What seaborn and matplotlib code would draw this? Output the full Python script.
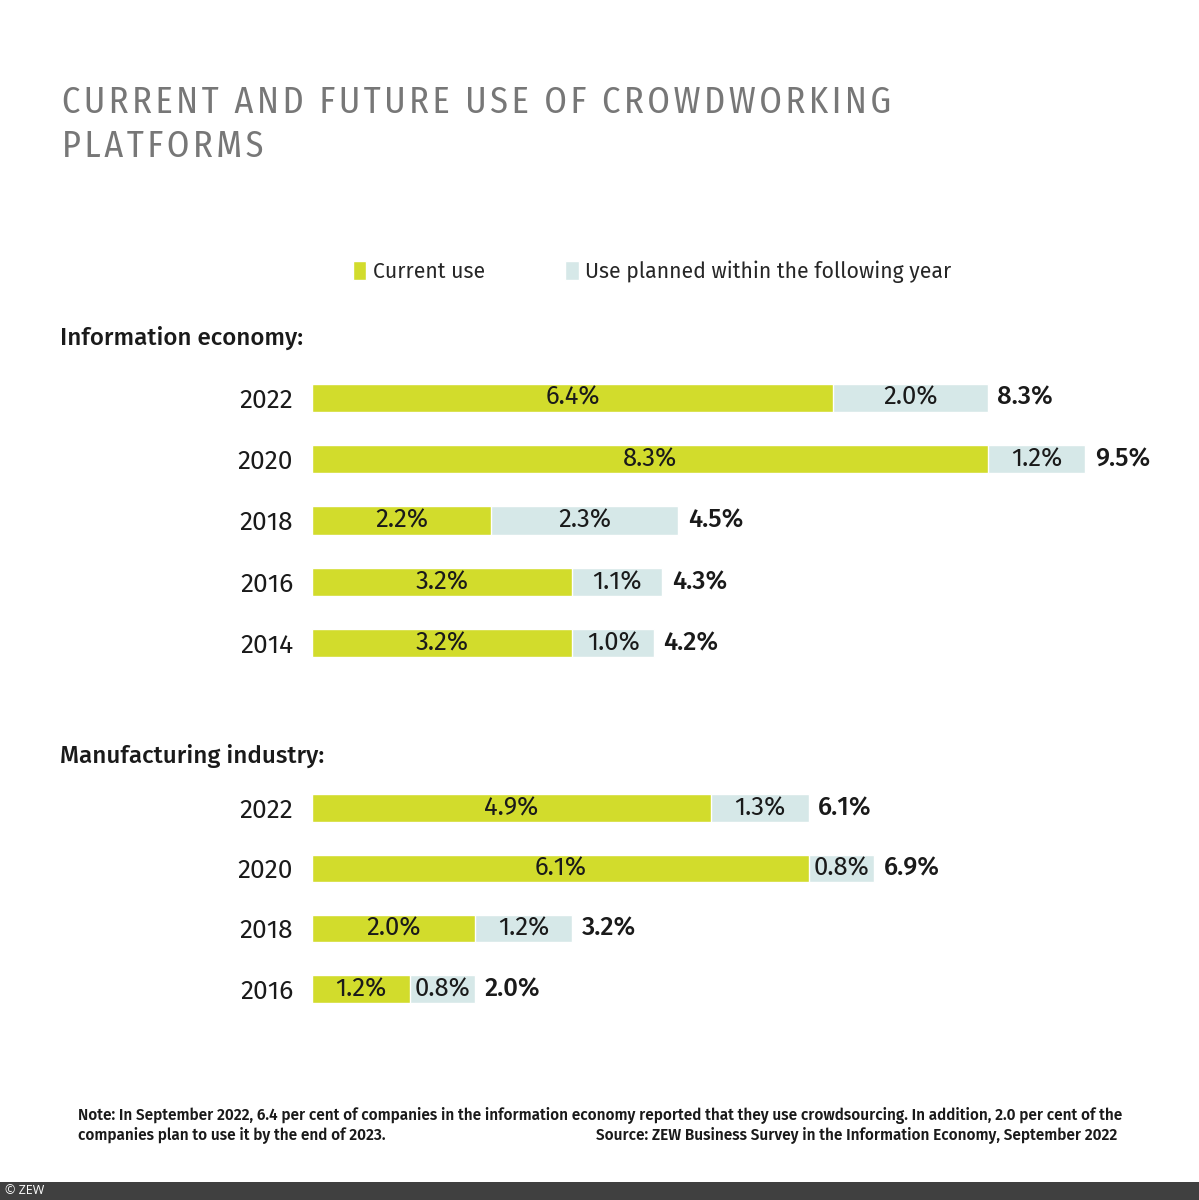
import matplotlib
matplotlib.use("Agg")
import matplotlib.pyplot as plt
import seaborn as sns
from matplotlib.patches import Patch, Rectangle

# Données
info_years = ["2022", "2020", "2018", "2016", "2014"]
info_current = [6.4, 8.3, 2.2, 3.2, 3.2]
info_planned = [2.0, 1.2, 2.3, 1.1, 1.0]
info_total = [8.3, 9.5, 4.5, 4.3, 4.2]

manu_years = ["2022", "2020", "2018", "2016"]
manu_current = [4.9, 6.1, 2.0, 1.2]
manu_planned = [1.3, 0.8, 1.2, 0.8]
manu_total = [6.1, 6.9, 3.2, 2.0]

GREEN = "#d2dc2c"
BLUE = "#d6e8e8"
TXT = "#1a1a1a"

sns.set_theme(style="white")
plt.rcParams['font.family'] = ['Fira Sans', 'Open Sans', 'DejaVu Sans']

W, H = 1199, 1200
fig = plt.figure(figsize=(W / 100, H / 100), dpi=100)

def px(x0, y0, x1, y1):
    # rectangle en pixels (haut-gauche) -> coordonnées figure
    return [x0 / W, 1 - y1 / H, (x1 - x0) / W, (y1 - y0) / H]

UNIT = 81.4  # pixels par point de pourcentage
X0 = 312

def panel(rect, years, current, planned, total):
    ax = fig.add_axes(rect)
    width_px = rect[2] * W
    sns.barplot(x=total, y=years, orient="h", color=BLUE, saturation=1,
                width=0.46, ax=ax)
    sns.barplot(x=current, y=years, orient="h", color=GREEN, saturation=1,
                width=0.46, ax=ax)
    ax.set_xlim(0, width_px / UNIT)
    ax.set_ylim(len(years) - 0.5, -0.5)
    ax.bar_label(ax.containers[1], labels=[f"{v:.1f}%" for v in current],
                 label_type="center", fontsize=18.5, color=TXT)
    for i, (c, p, t) in enumerate(zip(current, planned, total)):
        ax.text((c + t) / 2, i, f"{p:.1f}%", ha="center", va="center",
                fontsize=18.5, color=TXT)
    ax.bar_label(ax.containers[0], labels=[f"{v:.1f}%" for v in total],
                 padding=7, fontsize=18.5, fontweight="medium", color=TXT)
    ax.set_xlabel("")
    ax.set_ylabel("")
    ax.set_xticks([])
    ax.tick_params(axis="y", length=0, pad=13.5, labelsize=19, labelcolor=TXT)
    sns.despine(ax=ax, left=True, bottom=True)
    return ax

panel(px(X0, 367, X0 + 880, 674), info_years, info_current, info_planned, info_total)
panel(px(X0, 778, X0 + 880, 1019), manu_years, manu_current, manu_planned, manu_total)

# Titre (espacement des lettres simulé avec des espaces fines)
def spaced(s):
    return "\u200a".join(s)

title_font = ["Fira Sans Condensed", "DejaVu Sans"]
fig.text(62 / W, 1 - 113 / H, spaced("CURRENT AND FUTURE USE OF CROWDWORKING"),
         fontsize=26, color="#777777", family=title_font)
fig.text(62 / W, 1 - 157 / H, spaced("PLATFORMS"),
         fontsize=26, color="#777777", family=title_font)

# Légende
handles = [Patch(facecolor=GREEN, label="Current use"),
           Patch(facecolor=BLUE, label="Use planned within the following year")]
fig.legend(handles=handles, loc="center left", bbox_to_anchor=(353 / W, 1 - 272 / H),
           ncol=2, frameon=False, fontsize=15.3, handlelength=0.62, handleheight=1.0,
           handletextpad=0.3, columnspacing=3.8, borderpad=0, borderaxespad=0)

# Sous-titres
fig.text(60 / W, 1 - 345 / H, "Information economy:", fontsize=17.4,
         fontweight="medium", color=TXT)
fig.text(60 / W, 1 - 763 / H, "Manufacturing industry:", fontsize=17.4,
         fontweight="medium", color=TXT)

# Note et source
fig.text(78 / W, 1 - 1120 / H,
         "Note: In September 2022, 6.4 per cent of companies in the information economy reported that they use crowdsourcing. In addition, 2.0 per cent of the",
         fontsize=11.05, fontweight="semibold", color=TXT)
fig.text(78 / W, 1 - 1140 / H, "companies plan to use it by the end of 2023.",
         fontsize=11.05, fontweight="semibold", color=TXT)
fig.text(1117 / W, 1 - 1140 / H,
         "Source: ZEW Business Survey in the Information Economy, September 2022",
         ha="right", fontsize=11.05, fontweight="semibold", color=TXT)

# Bandeau bas
fig.patches.append(Rectangle((0, 0), 1, 18 / H, transform=fig.transFigure,
                             facecolor="#404040", edgecolor="none"))
fig.text(5 / W, 9 / H, "© ZEW", va="center", fontsize=9, color="white",
         family=["Open Sans", "DejaVu Sans"])

fig.savefig("out.png", dpi=100, facecolor="white")
